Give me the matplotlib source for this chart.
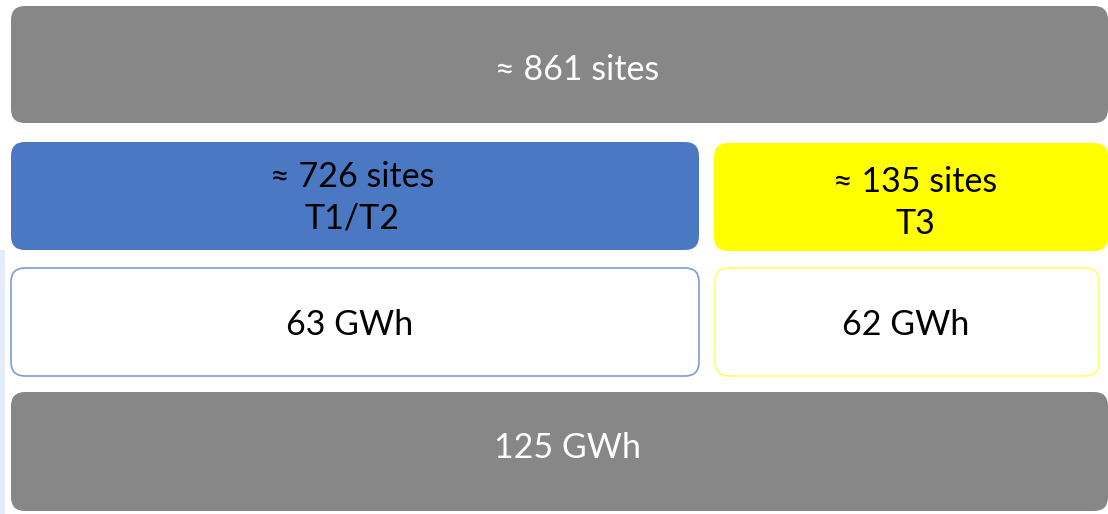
import matplotlib.pyplot as plt
from matplotlib.patches import FancyBboxPatch, Rectangle

plt.rcParams['font.family'] = ['Lato', 'DejaVu Sans']

# box labels and values
labels = ['≈ 861 sites', '≈ 726 sites\nT1/T2', '≈ 135 sites\nT3', '63 GWh', '62 GWh', '125 GWh']
# boxes: x0, y0, x1, y1 in pixels (top-left origin)
boxes = [(11, 6, 1108, 123), (11, 142, 699, 250), (714, 143, 1108, 251),
         (11, 268, 699, 376), (715, 268, 1099, 376), (11, 392, 1108, 511)]
fills = ['#878787', '#4a78c2', '#ffff00', 'white', 'white', '#878787']
edges = ['none', 'none', 'none', '#7b9ed8', '#ffff66', 'none']
text_col = ['white', 'black', 'black', 'black', 'black', 'white']
text_xy = [(577, 70), (352, 198), (915, 203), (350, 325), (906, 325), (568, 448)]

fig = plt.figure(figsize=(11.08, 5.14), dpi=100)
ax = fig.add_axes([0, 0, 1, 1])
ax.set_xlim(0, 1108)
ax.set_ylim(514, 0)
ax.axis('off')

# faint band on the left edge
ax.add_patch(Rectangle((0, 250), 5, 264, color='#e4ecfa', lw=0))

for (x0, y0, x1, y1), fc, ec in zip(boxes, fills, edges):
    ax.add_patch(FancyBboxPatch((x0, y0), x1 - x0, y1 - y0,
                                boxstyle='round,pad=0,rounding_size=14',
                                fc=fc, ec=ec, lw=1.2))

for lab, (tx, ty), c in zip(labels, text_xy, text_col):
    ax.text(tx, ty, lab, color=c, fontsize=24.5, ha='center', va='center',
            linespacing=1.35)

fig.savefig('out.png', dpi=100)
